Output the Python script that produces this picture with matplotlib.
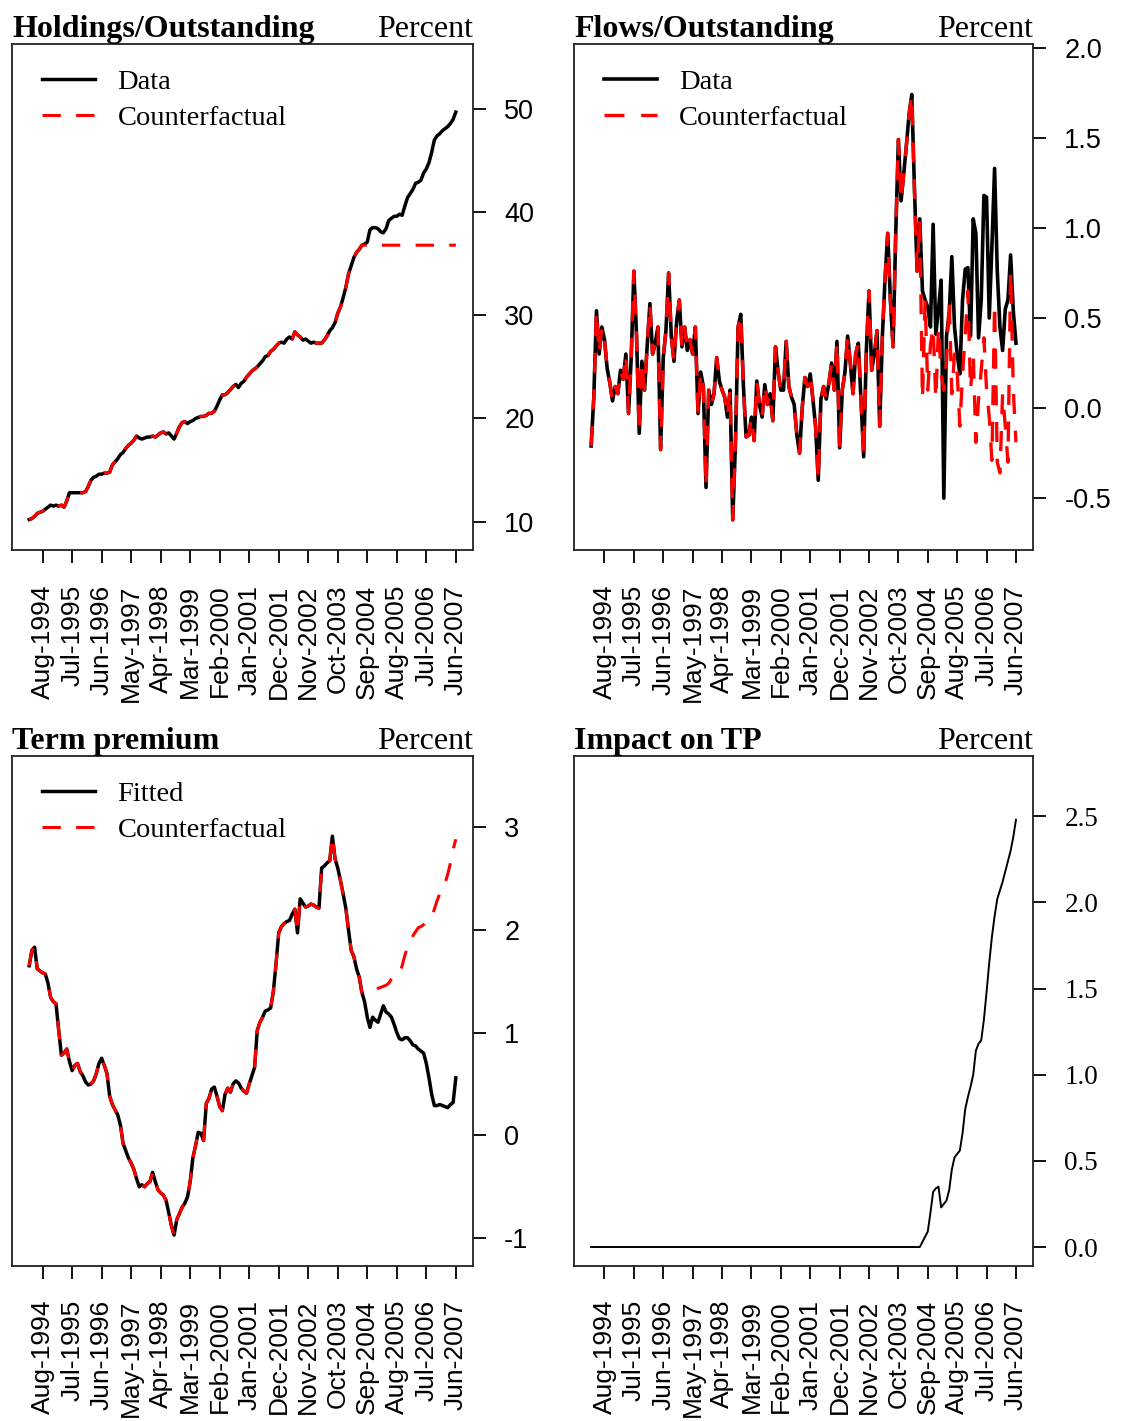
import numpy as np
import matplotlib
matplotlib.use("Agg")
import matplotlib.pyplot as plt

# monthly observations, Mar-1994 .. Jun-2007 (160 months)
months = np.arange(160)

tick_months = [5, 16, 27, 38, 49, 60, 71, 82, 93, 104, 115, 126, 137, 148, 159]
tick_labels = ["Aug-1994", "Jul-1995", "Jun-1996", "May-1997", "Apr-1998",
               "Mar-1999", "Feb-2000", "Jan-2001", "Dec-2001", "Nov-2002",
               "Oct-2003", "Sep-2004", "Aug-2005", "Jul-2006", "Jun-2007"]

# foreign official holdings as share of outstanding, percent
holdings = [
    10.2, 10.3, 10.5, 10.8, 10.9, 11.0, 11.2, 11.4, 11.6, 11.5,
    11.6, 11.5, 11.6, 11.4, 12.0, 12.8, 12.8, 12.8, 12.8, 12.8,
    12.8, 12.9, 13.4, 14.0, 14.3, 14.4, 14.6, 14.6, 14.7, 14.7,
    14.8, 15.5, 15.8, 16.1, 16.5, 16.7, 17.1, 17.4, 17.6, 17.9,
    18.3, 18.1, 18.0, 18.1, 18.2, 18.2, 18.3, 18.2, 18.4, 18.6,
    18.7, 18.5, 18.6, 18.3, 18.0, 18.6, 19.2, 19.6, 19.7, 19.5,
    19.7, 19.8, 20.0, 20.1, 20.2, 20.2, 20.3, 20.5, 20.5, 20.7,
    21.2, 21.8, 22.3, 22.3, 22.5, 22.8, 23.1, 23.3, 23.0, 23.4,
    23.6, 24.0, 24.3, 24.6, 24.8, 25.0, 25.3, 25.6, 26.0, 26.1,
    26.5, 26.7, 27.0, 27.3, 27.4, 27.3, 27.7, 27.9, 27.7, 28.4,
    28.1, 27.9, 27.6, 27.7, 27.5, 27.3, 27.4, 27.3, 27.3, 27.3,
    27.6, 28.0, 28.5, 28.8, 29.3, 30.2, 30.8, 31.7, 32.7, 34.0,
    34.8, 35.6, 36.1, 36.4, 36.8, 36.9, 37.1, 38.3, 38.5, 38.5,
    38.4, 38.1, 38.0, 38.4, 39.2, 39.4, 39.6, 39.6, 39.8, 39.7,
    40.6, 41.4, 41.8, 42.2, 42.8, 42.9, 43.1, 43.8, 44.2, 44.8,
    45.8, 47.0, 47.4, 47.6, 47.9, 48.1, 48.3, 48.6, 49.0, 49.7,
]
# holdings frozen after mid-2004
holdings_cf = holdings[:125] + [36.8] * 35

flows = [
    -0.21, 0.06, 0.54, 0.30, 0.45, 0.38, 0.22, 0.14, 0.04, 0.12,
    0.08, 0.21, 0.16, 0.30, -0.03, 0.28, 0.76, 0.40, -0.14, 0.26,
    0.10, 0.35, 0.58, 0.30, 0.36, 0.45, -0.23, 0.28, 0.43, 0.75,
    0.40, 0.26, 0.48, 0.60, 0.34, 0.45, 0.32, 0.38, 0.30, 0.45,
    -0.03, 0.20, 0.12, -0.44, 0.10, 0.02, 0.08, 0.28, 0.15, 0.10,
    0.06, -0.05, 0.10, -0.62, -0.20, 0.45, 0.52, 0.12, -0.16, -0.15,
    -0.05, -0.18, 0.15, 0.02, -0.05, 0.13, 0.02, 0.08, -0.07, 0.34,
    0.20, 0.10, 0.10, 0.37, 0.12, 0.06, 0.02, -0.15, -0.25, 0.00,
    0.17, 0.12, 0.19, 0.05, -0.10, -0.40, 0.05, 0.12, 0.05, 0.14,
    0.25, 0.10, 0.37, -0.22, 0.10, 0.20, 0.40, 0.25, 0.08, 0.30,
    0.36, 0.05, -0.27, 0.32, 0.65, 0.21, 0.30, 0.43, -0.10, 0.40,
    0.72, 0.97, 0.60, 0.34, 0.97, 1.49, 1.15, 1.30, 1.46, 1.63,
    1.74, 1.22, 0.76, 1.05, 0.65, 0.60, 0.56, 0.45, 1.02, 0.41,
    0.55, 0.71, -0.50, 0.40, 0.52, 0.84, 0.45, 0.30, 0.19, 0.60,
    0.77, 0.78, 0.40, 1.05, 0.97, 0.39, 0.60, 1.18, 1.17, 0.50,
    0.90, 1.33, 0.76, 0.45, 0.32, 0.55, 0.60, 0.85, 0.54, 0.36,
]
flows_cf = flows[:124] + [
    0.05, 0.60, 0.10, 0.35, 0.45, 0.05, 0.45, 0.19, 0.10, 0.25,
    0.60, 0.08, 0.30, 0.20, -0.10, 0.19, 0.40, 0.65, 0.10, 0.30,
    -0.19, 0.05, 0.21, 0.39, 0.10, -0.05, -0.29, 0.58, -0.30, -0.36,
    0.08, -0.10, -0.30, 0.76, 0.10, -0.19,
]

tp_fitted = [
    1.65, 1.80, 1.83, 1.62, 1.60, 1.58, 1.57, 1.48, 1.34, 1.30,
    1.28, 1.02, 0.78, 0.80, 0.84, 0.72, 0.63, 0.68, 0.70, 0.62,
    0.58, 0.52, 0.49, 0.50, 0.53, 0.60, 0.70, 0.75, 0.68, 0.60,
    0.38, 0.30, 0.25, 0.20, 0.10, -0.08, -0.15, -0.22, -0.27, -0.33,
    -0.42, -0.50, -0.48, -0.50, -0.47, -0.45, -0.36, -0.45, -0.53, -0.56,
    -0.58, -0.63, -0.75, -0.88, -0.97, -0.82, -0.76, -0.70, -0.66, -0.60,
    -0.45, -0.22, -0.10, 0.03, 0.02, -0.05, 0.31, 0.36, 0.45, 0.47,
    0.38, 0.28, 0.24, 0.40, 0.46, 0.42, 0.50, 0.53, 0.51, 0.46,
    0.43, 0.41, 0.50, 0.58, 0.66, 1.02, 1.10, 1.15, 1.21, 1.22,
    1.24, 1.40, 1.67, 1.97, 2.03, 2.06, 2.08, 2.09, 2.15, 2.20,
    1.97, 2.30, 2.26, 2.22, 2.23, 2.25, 2.24, 2.22, 2.21, 2.60,
    2.62, 2.65, 2.67, 2.91, 2.69, 2.60, 2.48, 2.35, 2.21, 2.00,
    1.80, 1.74, 1.62, 1.54, 1.39, 1.30, 1.15, 1.05, 1.15, 1.12,
    1.10, 1.18, 1.26, 1.20, 1.18, 1.15, 1.08, 1.00, 0.94, 0.93,
    0.95, 0.95, 0.92, 0.88, 0.87, 0.84, 0.82, 0.80, 0.70, 0.56,
    0.40, 0.29, 0.29, 0.30, 0.29, 0.28, 0.27, 0.30, 0.32, 0.56,
]
tp_cf = tp_fitted[:125] + [
    1.39, 1.39, 1.40, 1.40, 1.41, 1.43, 1.44, 1.45, 1.46, 1.48,
    1.52, 1.55, 1.56, 1.57, 1.65, 1.75, 1.83, 1.88, 1.94, 1.98,
    2.02, 2.03, 2.05, 2.08, 2.10, 2.12, 2.20, 2.28, 2.35, 2.40,
    2.45, 2.54, 2.65, 2.78, 2.88,
]

impact = [0.0] * 123 + [
    0.00, 0.03, 0.06, 0.09, 0.20, 0.32, 0.34, 0.35, 0.23, 0.25,
    0.27, 0.33, 0.45, 0.52, 0.54, 0.56, 0.66, 0.80, 0.87, 0.93,
    1.00, 1.14, 1.18, 1.20, 1.32, 1.48, 1.65, 1.80, 1.92, 2.02,
    2.07, 2.12, 2.18, 2.24, 2.30, 2.38, 2.48,
]

SERIF = "Liberation Serif"
SANS = "Liberation Sans"
DASH = (0, (6, 5))


def style_axes(ax, title, yticks, ylim, ytick_fmt, ytick_family=SANS):
    ax.set_xlim(-6.4, 165.4)
    ax.set_ylim(*ylim)
    ax.set_xticks(tick_months)
    ax.set_xticklabels(tick_labels, rotation=90, fontsize=19, family=SANS)
    ax.set_yticks(yticks)
    ax.set_yticklabels([ytick_fmt.format(v) for v in yticks],
                       fontsize=19.5, family=ytick_family)
    ax.yaxis.tick_right()
    ax.tick_params(axis="x", direction="out", length=9.5, width=1.3, pad=15)
    ax.tick_params(axis="y", direction="out", length=9.5, width=1.3, pad=13)
    for sp in ax.spines.values():
        sp.set_linewidth(1.3)
        sp.set_color("#222222")
    ax.set_title(title, loc="left", fontsize=23, fontweight="bold",
                 family=SERIF, pad=5)
    ax.set_title("Percent", loc="right", fontsize=23, family=SERIF, pad=2)


def add_legend(ax, labels):
    ax.legend(labels, loc="upper left", bbox_to_anchor=(0.065, 0.950),
              frameon=False, borderpad=0, borderaxespad=0,
              handlelength=1.85, handletextpad=0.8, labelspacing=0.33,
              prop={"family": SERIF, "size": 20.5})


fig = plt.figure(figsize=(11.24, 14.21), dpi=100)
ax1 = fig.add_axes([0.0107, 0.6126, 0.4101, 0.3564])
ax2 = fig.add_axes([0.5107, 0.6126, 0.4084, 0.3564])
ax3 = fig.add_axes([0.0107, 0.1091, 0.4101, 0.3589])
ax4 = fig.add_axes([0.5107, 0.1091, 0.4084, 0.3589])

# holdings / outstanding
ax1.plot(months, holdings, color="black", lw=2.5)
ax1.plot(months, holdings_cf, color="red", lw=2.2, linestyle=DASH)
style_axes(ax1, "Holdings/Outstanding", [10, 20, 30, 40, 50], (7.2, 56.3), "{:d}")
add_legend(ax1, ["Data", "Counterfactual"])

# flows / outstanding
ax2.plot(months, flows, color="black", lw=2.6)
ax2.plot(months, flows_cf, color="red", lw=2.4, linestyle=DASH)
style_axes(ax2, "Flows/Outstanding", [-0.5, 0.0, 0.5, 1.0, 1.5, 2.0],
           (-0.79, 2.02), "{:.1f}")
add_legend(ax2, ["Data", "Counterfactual"])

# term premium
ax3.plot(months, tp_fitted, color="black", lw=2.5)
ax3.plot(months, tp_cf, color="red", lw=2.2, linestyle=DASH)
style_axes(ax3, "Term premium", [-1, 0, 1, 2, 3], (-1.27, 3.69), "{:d}")
add_legend(ax3, ["Fitted", "Counterfactual"])

# impact on term premium
ax4.plot(months, impact, color="black", lw=1.4)
style_axes(ax4, "Impact on TP", [0.0, 0.5, 1.0, 1.5, 2.0, 2.5],
           (-0.11, 2.85), "{:.1f}", ytick_family=SERIF)

fig.savefig("out.png", dpi=100)
